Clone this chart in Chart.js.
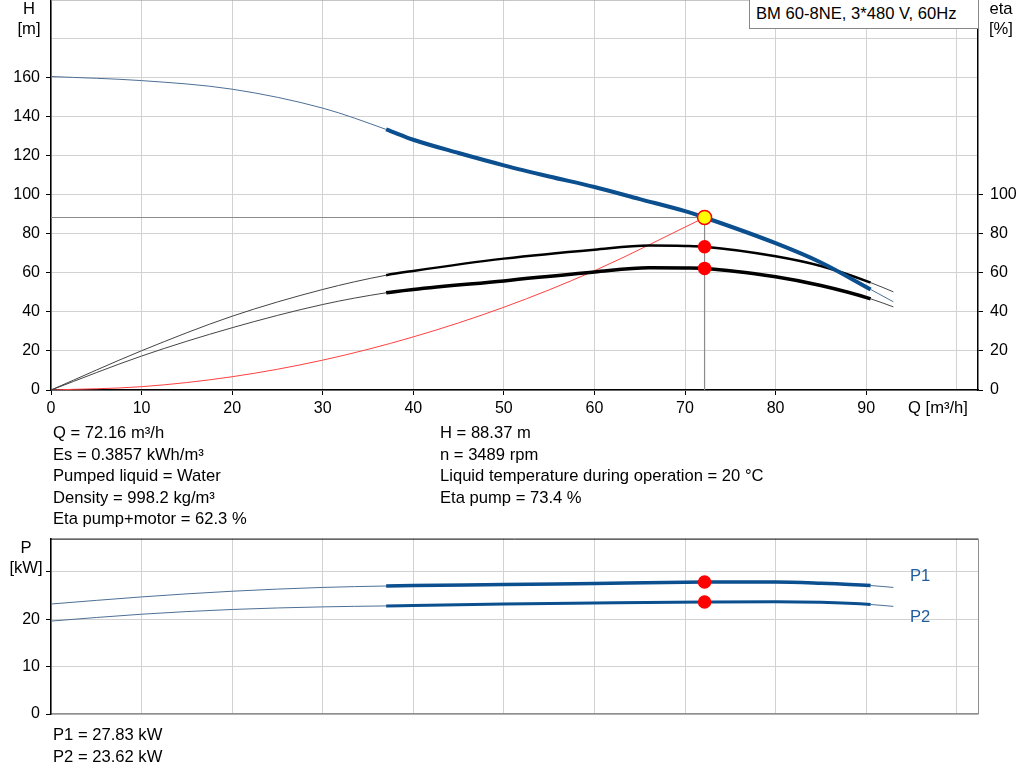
<!DOCTYPE html>
<html>
<head>
<meta charset="utf-8">
<script src="https://cdn.jsdelivr.net/npm/chart.js@4/dist/chart.umd.min.js"></script>
<style>
  body { margin: 0; background: #fff; font-family: Arial, "Liberation Sans", sans-serif; font-size: 16.6px; color: #000; }
  #page { position: relative; width: 1024px; height: 781px; overflow: hidden; }
  canvas { position: absolute; left: 0; }
  .t { position: absolute; white-space: nowrap; line-height: 21.5px; }
  .c { text-align: center; line-height: 20px; }
  #legendBox { position: absolute; left: 749px; top: -1px; width: 222px; height: 28px; border: 1px solid #888; background: #fff; padding-left: 6px; line-height: 28px; white-space: nowrap; }
</style>
</head>
<body>
<div id="page">
  <canvas id="topChart" width="1024" height="442" style="top:-17px"></canvas>
  <canvas id="powerChart" width="1024" height="207" style="top:523px"></canvas>

  <div class="t c" style="left:12px; top:-1px; width:34px;">H<br>[m]</div>
  <div class="t c" style="left:983px; top:-1px; width:36px;">eta<br>[%]</div>
  <div class="t" style="left:908px; top:397px;">Q [m³/h]</div>
  <div id="legendBox">BM 60-8NE, 3*480 V, 60Hz</div>

  <div class="t" style="left:53px; top:422px;">Q = 72.16 m³/h<br>Es = 0.3857 kWh/m³<br>Pumped liquid = Water<br>Density = 998.2 kg/m³<br>Eta pump+motor = 62.3 %</div>
  <div class="t" style="left:440px; top:422px;">H = 88.37 m<br>n = 3489 rpm<br>Liquid temperature during operation = 20 °C<br>Eta pump = 73.4 %</div>

  <div class="t c" style="left:8px; top:538px; width:36px;">P<br>[kW]</div>
  <div class="t" style="left:910px; top:565px; color:#1f5c9e;">P1</div>
  <div class="t" style="left:910px; top:606px; color:#1f5c9e;">P2</div>
  <div class="t" style="left:53px; top:724px;">P1 = 27.83 kW<br>P2 = 23.62 kW</div>
</div>

<script>
// duty point
const opQ = 72.16;
const opH = 88.37;
const opEtaPump = 73.4;
const opEtaTotal = 62.3;
const opP1 = 27.83;
const opP2 = 23.62;

// pump head curve
const qH   = [0, 10, 20, 30, 37, 40, 45, 50, 55, 60, 65, 70, 72.16, 80, 85, 90.5, 93];
const hVal = [160.6, 158.5, 154.1, 144.4, 133.5, 128.2, 121.4, 115.1, 109.4, 104, 97.8, 91.6, 88.37, 75.2, 65.3, 51.5, 45.2];

// efficiency curves
const qEta     = [0, 10, 20, 30, 37, 40, 50, 60, 66, 70, 72.16, 80, 85, 90.5, 93];
const etaPump  = [0, 20.1, 37.8, 51.5, 58.8, 61, 67.3, 71.9, 74, 73.8, 73.4, 68.5, 63.5, 55, 50.3];
const etaTotal = [0, 17.4, 31.9, 43.8, 49.8, 51.5, 55.9, 60.5, 62.6, 62.5, 62.3, 58, 53.5, 46.7, 42.6];

// system curve
const qSys = [0, 10, 20, 30, 40, 50, 60, 72.16];
const hSys = [0, 1.7, 6.8, 15.3, 27.2, 42.4, 61.1, 88.37];

// power curves
const qP  = [0, 10, 20, 30, 37, 40, 50, 60, 72.16, 80, 85, 90.5, 93];
const p1V = [23.2, 24.7, 25.9, 26.7, 27.0, 27.1, 27.3, 27.55, 27.83, 27.87, 27.6, 27.1, 26.7];
const p2V = [19.6, 21.05, 22.05, 22.6, 22.8, 22.9, 23.2, 23.4, 23.62, 23.7, 23.55, 23.1, 22.7];

// operating range (thick part of curves)
const rangeMin = 37;
const rangeMax = 90.5;

const FONT = { family: 'Arial, "Liberation Sans", sans-serif', size: 16 };
const GRID = '#d2d2d2';
const BLUE = '#0b4f8f';

function pts(xs, ys) { return xs.map((x, i) => ({ x: x, y: ys[i] })); }

function inRange(ctx) {
  return ctx.p0.parsed.x >= rangeMin - 0.01 && ctx.p1.parsed.x <= rangeMax + 0.01;
}

const frame = {
  id: 'frame',
  afterDraw(chart, args, opts) {
    const c = chart.ctx, a = chart.chartArea;
    c.save();
    c.lineWidth = 1;
    c.strokeStyle = opts.top;
    c.beginPath(); c.moveTo(a.left, a.top + 0.5); c.lineTo(a.right, a.top + 0.5); c.stroke();
    if (opts.right) {
      c.strokeStyle = opts.right;
      c.beginPath(); c.moveTo(a.right + 0.5, a.top); c.lineTo(a.right + 0.5, a.bottom); c.stroke();
    }
    c.restore();
  }
};

Chart.defaults.font.family = FONT.family;
Chart.defaults.font.size = FONT.size;
Chart.defaults.color = '#000';

function curve(data, color, thick, thin, axis, thinColor) {
  return {
    data: data, yAxisID: axis, borderColor: color, borderWidth: thin,
    pointRadius: 0, cubicInterpolationMode: 'monotone', fill: false, order: 2,
    segment: {
      borderWidth: ctx => inRange(ctx) ? thick : thin,
      borderColor: ctx => inRange(ctx) ? color : thinColor
    }
  };
}

function marker(x, y, axis, bg, border, r) {
  return {
    data: [{ x: x, y: y }], yAxisID: axis, showLine: false, order: 0,
    pointRadius: r, pointBackgroundColor: bg, pointBorderColor: border, pointBorderWidth: 1.5
  };
}

new Chart(document.getElementById('topChart'), {
  type: 'line',
  data: {
    datasets: [
      marker(opQ, opH, 'yH', '#ffff00', '#ff0000', 7),
      marker(opQ, opEtaPump, 'yEta', '#ff0000', '#ff0000', 6),
      marker(opQ, opEtaTotal, 'yEta', '#ff0000', '#ff0000', 6),
      curve(pts(qH, hVal), BLUE, 4, 1, 'yH', '#4d6f95'),
      curve(pts(qEta, etaPump), '#000', 2.5, 1, 'yEta', '#444'),
      curve(pts(qEta, etaTotal), '#000', 3.5, 1, 'yEta', '#444'),
      { data: pts(qSys, hSys), yAxisID: 'yH', borderColor: '#ff4040', borderWidth: 1, pointRadius: 0,
        cubicInterpolationMode: 'monotone', order: 3 },
      { data: [{ x: 0, y: opH }, { x: opQ, y: opH }, { x: opQ, y: 0 }], yAxisID: 'yH',
        borderColor: '#8c8c8c', borderWidth: 1.2, pointRadius: 0, tension: 0, order: 4 }
    ]
  },
  options: {
    responsive: false, animation: false,
    layout: { padding: { top: 0 } },
    plugins: { legend: { display: false }, tooltip: { enabled: false }, frame: { top: '#a0a0a0' } },
    scales: {
      x: {
        type: 'linear', min: 0, max: 102.35,
        ticks: { stepSize: 10, includeBounds: false, padding: 4,
          callback: v => v <= 90 ? v : '' },
        grid: { color: GRID, tickLength: 5,
          tickColor: ctx => (ctx.tick && ctx.tick.value > 90) ? 'rgba(0,0,0,0)' : '#000' },
        border: { color: '#000', width: 1.5 },
        afterFit: s => { s.height = 35; }
      },
      yH: {
        type: 'linear', position: 'left', min: 0, max: 200,
        ticks: { stepSize: 20, includeBounds: false, padding: 6,
          callback: v => v <= 160 ? v : '' },
        grid: { color: GRID, tickLength: 5,
          tickColor: ctx => (ctx.tick && ctx.tick.value > 160) ? 'rgba(0,0,0,0)' : '#000' },
        border: { color: '#000', width: 1.5 },
        afterFit: s => { s.width = 51; }
      },
      yEta: {
        type: 'linear', position: 'right', min: 0, max: 200,
        ticks: { stepSize: 20, includeBounds: false, padding: 7,
          callback: v => v <= 100 ? v : '' },
        grid: { drawOnChartArea: false, tickLength: 5,
          tickColor: ctx => (ctx.tick && ctx.tick.value > 100) ? 'rgba(0,0,0,0)' : '#000' },
        border: { color: '#000', width: 1.5 },
        afterFit: s => { s.width = 46; }
      }
    }
  },
  plugins: [frame]
});

new Chart(document.getElementById('powerChart'), {
  type: 'line',
  data: {
    datasets: [
      marker(opQ, opP1, 'yP', '#ff0000', '#ff0000', 6),
      marker(opQ, opP2, 'yP', '#ff0000', '#ff0000', 6),
      curve(pts(qP, p1V), BLUE, 3.5, 1, 'yP', '#4d6f95'),
      curve(pts(qP, p2V), BLUE, 3, 1, 'yP', '#4d6f95')
    ]
  },
  options: {
    responsive: false, animation: false,
    layout: { padding: { top: 5, right: 46 } },
    plugins: { legend: { display: false }, tooltip: { enabled: false }, frame: { top: '#000', right: '#909090' } },
    scales: {
      x: {
        type: 'linear', min: 0, max: 102.35,
        ticks: { display: false, stepSize: 10, includeBounds: false },
        grid: { color: GRID, drawTicks: false },
        border: { color: '#909090', width: 1.5 },
        afterFit: s => { s.height = 16; }
      },
      yP: {
        type: 'linear', position: 'left', min: 0, max: 37,
        ticks: { stepSize: 10, includeBounds: false, padding: 6,
          callback: v => v <= 20 ? v : '' },
        grid: { color: GRID, tickLength: 5, tickColor: '#000' },
        border: { color: '#000', width: 1.5 },
        afterFit: s => { s.width = 51; }
      }
    }
  },
  plugins: [frame]
});
</script>
</body>
</html>
